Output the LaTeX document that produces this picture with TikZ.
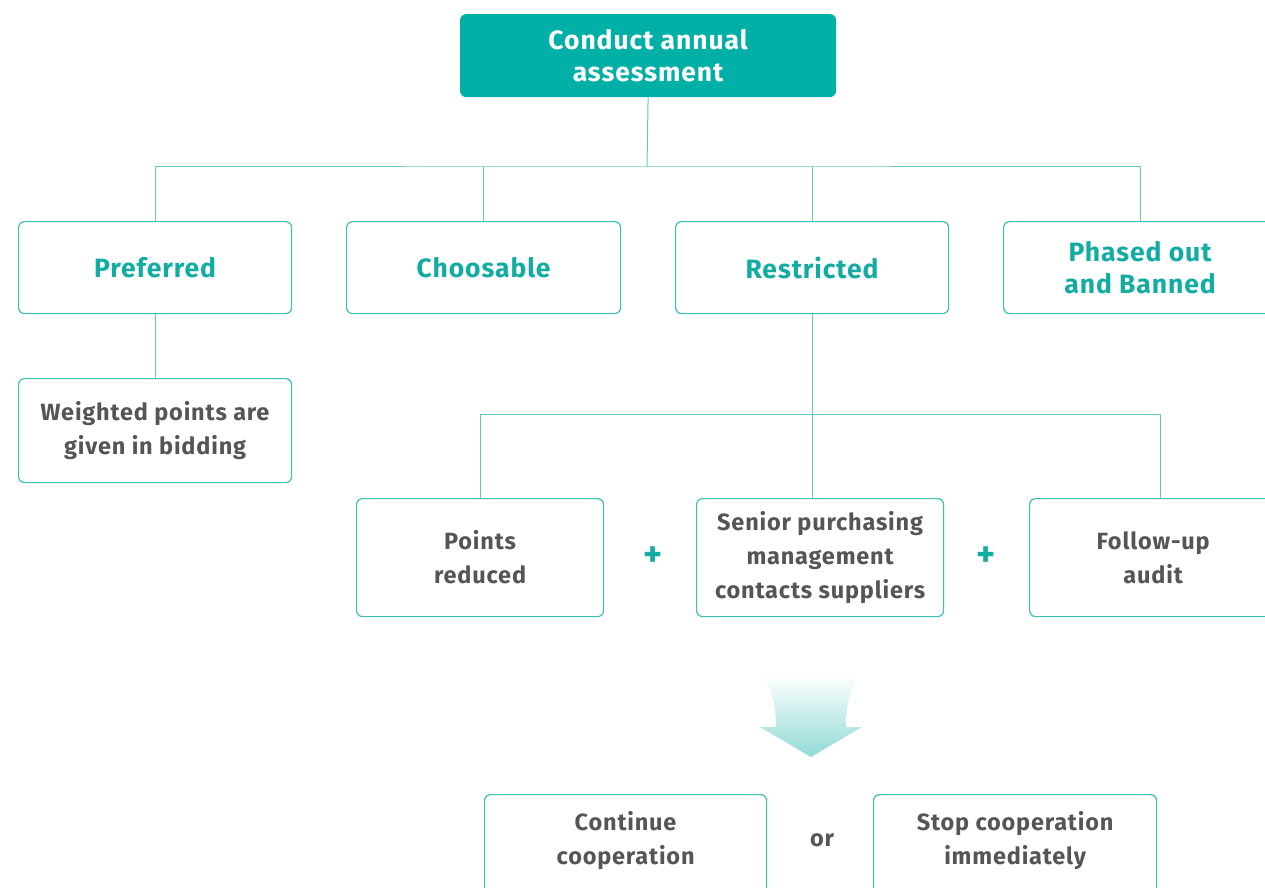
\documentclass[tikz,border=0pt]{standalone}
\usepackage{fontspec}
\setmainfont{Fira Sans}[LetterSpace=3.5]
\definecolor{teal}{HTML}{00AFA6}
\definecolor{tealtxt}{HTML}{13ACA2}
\definecolor{edge}{HTML}{3DBFB6}
\definecolor{wire}{HTML}{62C9C2}
\definecolor{greytxt}{HTML}{555555}
\definecolor{arrowlo}{HTML}{8FDAD5}
\tikzset{
  box/.style={draw=edge, line width=1.2pt, rounded corners=6pt, fill=white,
    align=center, inner sep=0pt, anchor=north west},
  catbox/.style={box, text=tealtxt, font=\fontsize{26.5}{32}\selectfont\bfseries},
  stepbox/.style={box, text=greytxt, font=\fontsize{23.5}{34}\selectfont\bfseries},
  wireline/.style={draw=wire, line width=1pt},
  plus/.style={text=tealtxt, font=\fontsize{36}{36}\selectfont\bfseries},
}
\begin{document}
\begin{tikzpicture}[x=1pt,y=-1pt]
\useasboundingbox (0,0) rectangle (1265,887);
\clip (0,0) rectangle (1265,887);

% root
\node[box, draw=teal, fill=teal, text=white, minimum width=375pt, minimum height=82pt,
  font=\fontsize{26.5}{32}\selectfont\bfseries] (root) at (460,14) {Conduct annual\\assessment};

% categories
\node[catbox, minimum width=273pt, minimum height=92pt] (pref) at (18,221) {Preferred};
\node[catbox, minimum width=274pt, minimum height=92pt] (choo) at (346,221) {Choosable};
\node[catbox, minimum width=273pt, minimum height=92pt] (rest) at (675,221) {Restricted};
\node[catbox, minimum width=273pt, minimum height=92pt] (phas) at (1003,221) {Phased out\\and Banned};

% consequences
\node[stepbox, minimum width=273pt, minimum height=104pt] (weig) at (18,378) {Weighted points are\\given in bidding};
\node[stepbox, minimum width=247pt, minimum height=118pt] (pts) at (356,498) {Points\\reduced};
\node[stepbox, minimum width=247pt, minimum height=118pt] (sen) at (696,498) {Senior purchasing\\management\\contacts suppliers};
\node[stepbox, minimum width=247pt, minimum height=118pt] (fol) at (1029,498) {Follow-up\\audit};

\node[plus] (p1) at (653,557) {+};
\node[plus] (p2) at (986,557) {+};

% outcomes (boxes run past the lower edge)
\node[stepbox, minimum width=282pt, minimum height=100pt, text depth=14pt] (cont) at (484,794) {Continue\\cooperation};
\node[stepbox, minimum width=283pt, minimum height=100pt, text depth=14pt] (stop) at (873,794) {Stop cooperation\\immediately};
\node[text=greytxt, font=\fontsize{23.5}{26}\selectfont\bfseries] (or) at (822,840) {or};

% tree connectors
\coordinate (bus) at (647,166);
\coordinate (rbus) at (812,414);
\draw[wireline] (root.south) -- (bus);
\draw[wireline] (pref.north) |- (bus) -| (phas.north -| 1140,0);
\draw[wireline] (choo.north) -- (choo.north |- bus);
\draw[wireline] (rest.north -| 812,0) -- (812,166);
\draw[wireline] (pref.south) -- (weig.north);
\draw[wireline] (rest.south -| 812,0) -- (sen.north -| 812,0);
\draw[wireline] (pts.north -| 480,0) |- (rbus) -| (fol.north -| 1160,0);

% gradient arrow
\shade[top color=white, bottom color=arrowlo, shading angle=0]
  (763,675) .. controls (773,690) and (776,710) .. (776,727)
  -- (760,727) -- (811,757) -- (862,727) -- (846,727)
  .. controls (846,710) and (849,690) .. (859,675) -- cycle;
\end{tikzpicture}
\end{document}
